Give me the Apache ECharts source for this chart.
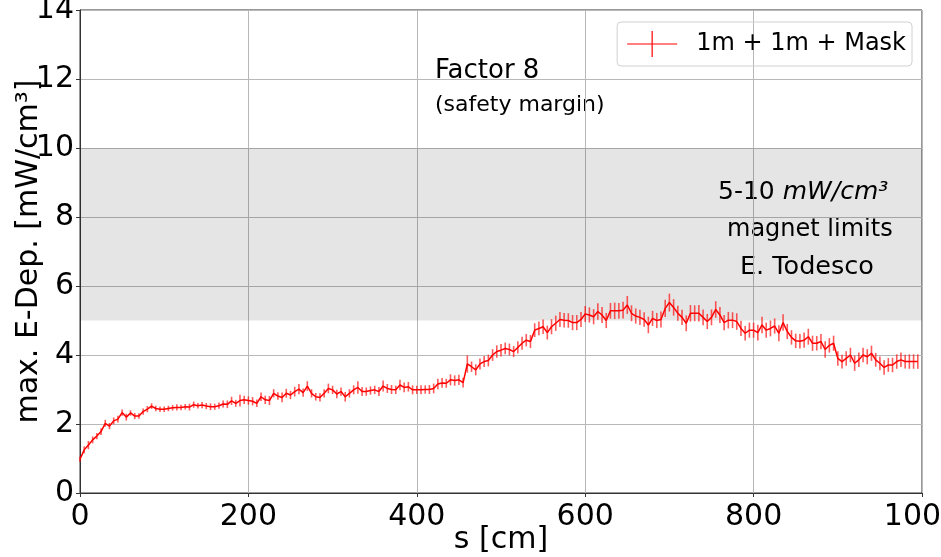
<!DOCTYPE html>
<html>
<head>
<meta charset="utf-8">
<script src="https://cdn.jsdelivr.net/npm/echarts@6/dist/echarts.min.js"></script>
<style>
  html, body { margin: 0; padding: 0; background: #fff; }
  #chart { width: 941px; height: 557px; }
</style>
</head>
<body>
<div id="chart"></div>
<script>
// position along s [cm]
var sPos = [
  0, 5, 10, 15, 20, 25, 30, 35, 40, 45, 50, 55, 60, 65, 70, 75, 80, 85, 90, 95,
  100, 105, 110, 115, 120, 125, 130, 135, 140, 145, 150, 155, 160, 165, 170, 175, 180, 185, 190, 195,
  200, 205, 210, 215, 220, 225, 230, 235, 240, 245, 250, 255, 260, 265, 270, 275, 280, 285, 290, 295,
  300, 305, 310, 315, 320, 325, 330, 335, 340, 345, 350, 355, 360, 365, 370, 375, 380, 385, 390, 395,
  400, 405, 410, 415, 420, 425, 430, 435, 440, 445, 450, 455, 460, 465, 470, 475, 480, 485, 490, 495,
  500, 505, 510, 515, 520, 525, 530, 535, 540, 545, 550, 555, 560, 565, 570, 575, 580, 585, 590, 595,
  600, 605, 610, 615, 620, 625, 630, 635, 640, 645, 650, 655, 660, 665, 670, 675, 680, 685, 690, 695,
  700, 705, 710, 715, 720, 725, 730, 735, 740, 745, 750, 755, 760, 765, 770, 775, 780, 785, 790, 795,
  800, 805, 810, 815, 820, 825, 830, 835, 840, 845, 850, 855, 860, 865, 870, 875, 880, 885, 890, 895,
  900, 905, 910, 915, 920, 925, 930, 935, 940, 945, 950, 955, 960, 965, 970, 975, 980, 985, 990, 995
];

// max. energy deposition [mW/cm3]
var eDep = [
  0.98, 1.25, 1.39, 1.54, 1.65, 1.78, 2.02, 1.94, 2.09, 2.14,
  2.33, 2.20, 2.32, 2.23, 2.23, 2.36, 2.43, 2.52, 2.45, 2.43,
  2.43, 2.45, 2.47, 2.48, 2.48, 2.50, 2.49, 2.56, 2.53, 2.55,
  2.52, 2.50, 2.50, 2.53, 2.58, 2.57, 2.67, 2.60, 2.68, 2.70,
  2.68, 2.66, 2.60, 2.79, 2.70, 2.68, 2.89, 2.81, 2.77, 2.89,
  2.84, 2.94, 3.01, 2.91, 3.10, 2.89, 2.79, 2.77, 2.89, 3.03,
  2.99, 2.87, 2.94, 2.79, 2.89, 2.99, 3.06, 2.94, 2.94, 2.97,
  2.99, 2.94, 3.10, 3.03, 3.00, 2.99, 3.13, 3.06, 3.08, 2.99,
  2.99, 2.99, 3.00, 3.00, 3.03, 3.16, 3.19, 3.18, 3.28, 3.26,
  3.28, 3.20, 3.74, 3.66, 3.57, 3.74, 3.81, 3.84, 4.00, 4.10,
  4.14, 4.19, 4.16, 4.10, 4.22, 4.34, 4.43, 4.39, 4.72, 4.77,
  4.82, 4.65, 4.82, 4.92, 5.03, 5.01, 5.00, 4.94, 4.94, 5.03,
  5.19, 5.16, 5.11, 5.26, 5.16, 5.00, 5.28, 5.28, 5.28, 5.30,
  5.45, 5.21, 5.13, 5.09, 5.03, 4.87, 5.06, 5.00, 5.03, 5.35,
  5.52, 5.38, 5.21, 5.09, 4.92, 5.21, 5.21, 5.21, 5.09, 4.97,
  5.09, 5.32, 5.16, 4.94, 5.01, 5.01, 4.97, 4.77, 4.63, 4.72,
  4.72, 4.65, 4.87, 4.72, 4.77, 4.84, 4.63, 4.94, 4.68, 4.51,
  4.41, 4.40, 4.43, 4.53, 4.34, 4.34, 4.39, 4.16, 4.28, 4.34,
  3.90, 3.81, 3.90, 4.00, 3.76, 3.86, 4.00, 3.95, 4.05, 3.86,
  3.76, 3.64, 3.71, 3.71, 3.81, 3.86, 3.81, 3.81, 3.81, 3.81
];

// half length of the error bars
var eErr = [
  0.08, 0.10, 0.12, 0.10, 0.09, 0.10, 0.10, 0.09, 0.10, 0.10,
  0.09, 0.10, 0.08, 0.09, 0.08, 0.09, 0.09, 0.08, 0.08, 0.08,
  0.08, 0.08, 0.08, 0.09, 0.08, 0.08, 0.10, 0.09, 0.08, 0.09,
  0.09, 0.10, 0.09, 0.09, 0.10, 0.11, 0.12, 0.10, 0.17, 0.12,
  0.12, 0.12, 0.11, 0.12, 0.12, 0.13, 0.12, 0.11, 0.14, 0.13,
  0.12, 0.14, 0.15, 0.12, 0.14, 0.12, 0.11, 0.12, 0.12, 0.14,
  0.12, 0.12, 0.12, 0.14, 0.12, 0.13, 0.18, 0.13, 0.12, 0.12,
  0.12, 0.13, 0.16, 0.13, 0.13, 0.12, 0.15, 0.14, 0.14, 0.13,
  0.12, 0.13, 0.12, 0.13, 0.14, 0.15, 0.14, 0.13, 0.16, 0.15,
  0.15, 0.14, 0.25, 0.15, 0.16, 0.16, 0.16, 0.17, 0.17, 0.18,
  0.18, 0.17, 0.17, 0.16, 0.18, 0.19, 0.18, 0.19, 0.20, 0.20,
  0.21, 0.20, 0.22, 0.22, 0.22, 0.21, 0.21, 0.22, 0.22, 0.22,
  0.23, 0.22, 0.22, 0.24, 0.23, 0.22, 0.23, 0.24, 0.23, 0.24,
  0.26, 0.23, 0.22, 0.22, 0.21, 0.24, 0.22, 0.22, 0.23, 0.25,
  0.26, 0.24, 0.22, 0.22, 0.23, 0.24, 0.23, 0.24, 0.23, 0.22,
  0.23, 0.24, 0.23, 0.22, 0.24, 0.23, 0.24, 0.22, 0.21, 0.22,
  0.22, 0.23, 0.24, 0.22, 0.23, 0.22, 0.23, 0.24, 0.22, 0.21,
  0.21, 0.21, 0.22, 0.23, 0.22, 0.21, 0.22, 0.24, 0.21, 0.22,
  0.21, 0.20, 0.21, 0.21, 0.22, 0.21, 0.21, 0.22, 0.22, 0.20,
  0.20, 0.21, 0.20, 0.21, 0.21, 0.21, 0.20, 0.21, 0.21, 0.21
];

var magnetBand = [5, 10];
var seriesName = '1m + 1m + Mask';

var lineData = [];
var errData = [];
for (var i = 0; i < sPos.length; i++) {
  lineData.push([sPos[i], eDep[i]]);
  errData.push([sPos[i], eDep[i], eErr[i]]);
}

var font = 'DejaVu Sans';
var myChart = echarts.init(document.getElementById('chart'));
var option = {
  animation: false,
  grid: {
    left: 80, right: 19, top: 10, bottom: 64,
    outerBoundsMode: 'none',
    containLabel: false,
    show: true, borderColor: '#333', borderWidth: 1
  },
  legend: {
    right: 29, top: 22,
    padding: [9, 6, 9, 10],
    borderColor: '#d0d0d0', borderWidth: 1, borderRadius: 4,
    itemWidth: 50, itemHeight: 26, itemGap: 10,
    icon: 'path://M0,12.4h50v1.2h-50z M24.4,0h1.2v26h-1.2z',
    textStyle: { fontFamily: font, fontSize: 24, color: '#000', padding: [0, 0, 0, 14] },
    data: [seriesName]
  },
  xAxis: {
    type: 'value',
    min: 0, max: 1000, interval: 200,
    name: 's [cm]',
    nameLocation: 'middle',
    nameMoveOverlap: false,
    nameGap: 32,
    nameTextStyle: { fontFamily: font, fontSize: 30, color: '#000', verticalAlign: 'top' },
    axisLine: { lineStyle: { color: '#333' } },
    axisTick: { show: true, length: 4, lineStyle: { color: '#333' } },
    axisLabel: {
      fontFamily: font, fontSize: 30, color: '#000', margin: 9,
      formatter: function (v) { return String(v); }
    },
    splitLine: { show: true, lineStyle: { color: '#b8b8b8', width: 1 } }
  },
  yAxis: {
    type: 'value',
    min: 0, max: 14, interval: 2,
    name: 'max. E-Dep. [mW/cm³]',
    nameLocation: 'middle',
    nameMoveOverlap: false,
    nameGap: 36,
    nameTextStyle: { fontFamily: font, fontSize: 30, color: '#000', verticalAlign: 'bottom' },
    axisLine: { show: true, lineStyle: { color: '#333' } },
    axisTick: { show: true, length: 4, lineStyle: { color: '#333' } },
    axisLabel: { fontFamily: font, fontSize: 30, color: '#000', margin: 6 },
    splitLine: { show: true, lineStyle: { color: '#b8b8b8', width: 1 } }
  },
  graphic: [
    { type: 'text', left: 435, top: 58, style: { text: 'Factor 8', font: '26px "DejaVu Sans"', fill: '#000' } },
    { type: 'text', left: 435, top: 94, style: { text: '(safety margin)', font: '22px "DejaVu Sans"', fill: '#000' } },
    {
      type: 'text', left: 718, top: 180,
      style: {
        text: '{n|5-10 }{i|mW/cm³}',
        rich: {
          n: { fontFamily: font, fontSize: 25, fill: '#000' },
          i: { fontFamily: font, fontSize: 25, fontStyle: 'italic', fill: '#000' }
        }
      }
    },
    { type: 'text', left: 727, top: 218, style: { text: 'magnet limits', font: '24px "DejaVu Sans"', fill: '#000' } },
    { type: 'text', left: 740, top: 254, style: { text: 'E. Todesco', font: '25.5px "DejaVu Sans"', fill: '#000' } }
  ],
  series: [
    {
      name: seriesName,
      type: 'line',
      data: lineData,
      showSymbol: false,
      z: 3,
      lineStyle: { color: '#ff0000', width: 1.5 },
      itemStyle: { color: '#ff0000' },
      markArea: {
        silent: true,
        itemStyle: { color: 'rgba(0,0,0,0.1)' },
        data: [[{ yAxis: magnetBand[0] }, { yAxis: magnetBand[1] }]]
      }
    },
    {
      name: 'err',
      type: 'custom',
      data: errData,
      z: 2,
      renderItem: function (params, api) {
        var x = api.value(0), y = api.value(1), e = api.value(2);
        var top = api.coord([x, y + e]);
        var bot = api.coord([x, y - e]);
        return {
          type: 'line',
          shape: { x1: top[0], y1: top[1], x2: bot[0], y2: bot[1] },
          style: { stroke: 'rgba(255,0,0,0.65)', lineWidth: 1.6 }
        };
      }
    }
  ]
};
option && myChart.setOption(option);
</script>
</body>
</html>
